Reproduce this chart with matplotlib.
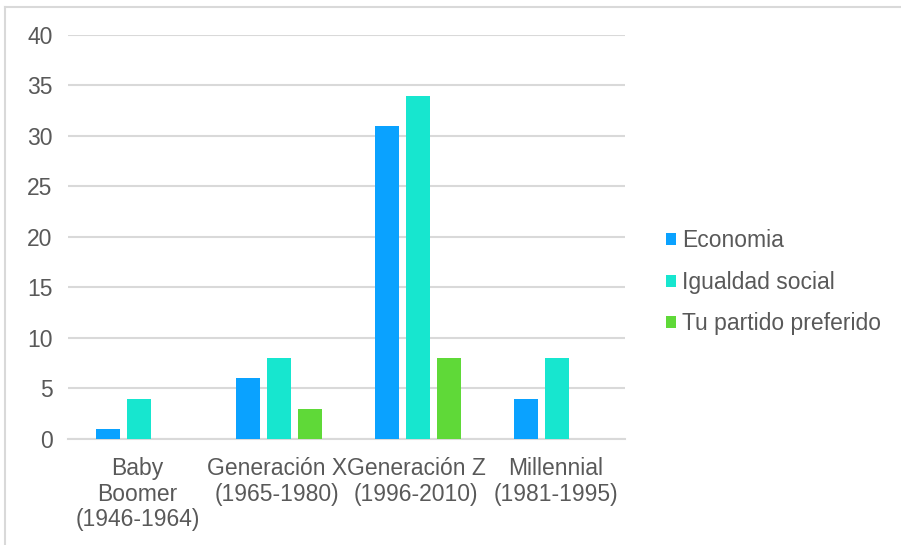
import matplotlib.pyplot as plt
import numpy as np

# data
categories = ["Baby\nBoomer\n(1946-1964)", "Generación X\n(1965-1980)",
              "Generación Z\n(1996-2010)", "Millennial\n(1981-1995)"]
series = ["Economia", "Igualdad social", "Tu partido preferido"]
economia = [1, 6, 31, 4]
igualdad = [4, 8, 34, 8]
partido = [0, 3, 8, 0]
yticks = [0, 5, 10, 15, 20, 25, 30, 35, 40]

colors = ["#0aa2ff", "#17e6cf", "#5fd938"]
plt.rcParams['font.family'] = ['Liberation Sans', 'DejaVu Sans']
fs = 16.5

fig = plt.figure(figsize=(9.01, 5.45), dpi=100)
ax = fig.add_axes([0.0755, 0.1945, 0.6185, 0.7413])

x = np.arange(len(categories))
w = 0.173
step = 0.223
for i, (vals, name) in enumerate(zip([economia, igualdad, partido], series)):
    ax.bar(x + (i - 1) * step + 0.012, vals, width=w, color=colors[i], label=name, zorder=3)

ax.set_xlim(-0.5, len(categories) - 0.5)
ax.set_ylim(0, 40)
ax.set_yticks(yticks)
ax.yaxis.grid(True, color="#d9d9d9", linewidth=1.5, zorder=0)
for s in ["top", "right", "left"]:
    ax.spines[s].set_visible(False)
ax.spines["bottom"].set_color("#d9d9d9")
ax.spines["bottom"].set_linewidth(1.5)
ax.tick_params(axis="both", length=0, labelsize=fs, labelcolor="#595959")
ax.tick_params(axis="y", pad=11)
ax.tick_params(axis="x", pad=13)
ax.set_xticks(x)
ax.set_xticklabels(categories, linespacing=1.15)

handles, labels = ax.get_legend_handles_labels()
leg = fig.legend(handles, labels, loc="center left", bbox_to_anchor=(0.739, 0.482),
                 frameon=False, fontsize=fs, handlelength=0.44, handleheight=0.44,
                 handletextpad=0.26, labelspacing=0.8, borderpad=0, borderaxespad=0,
                 labelcolor="#595959")

# outer frame lines (left and top) as seen in the screenshot
fig.add_artist(plt.Line2D([0.006, 0.006], [0, 0.987], color="#d9d9d9", lw=1.5,
                          transform=fig.transFigure))
fig.add_artist(plt.Line2D([0.006, 1.0], [0.987, 0.987], color="#d9d9d9", lw=1.5,
                          transform=fig.transFigure))

fig.savefig("out.png", dpi=100)
